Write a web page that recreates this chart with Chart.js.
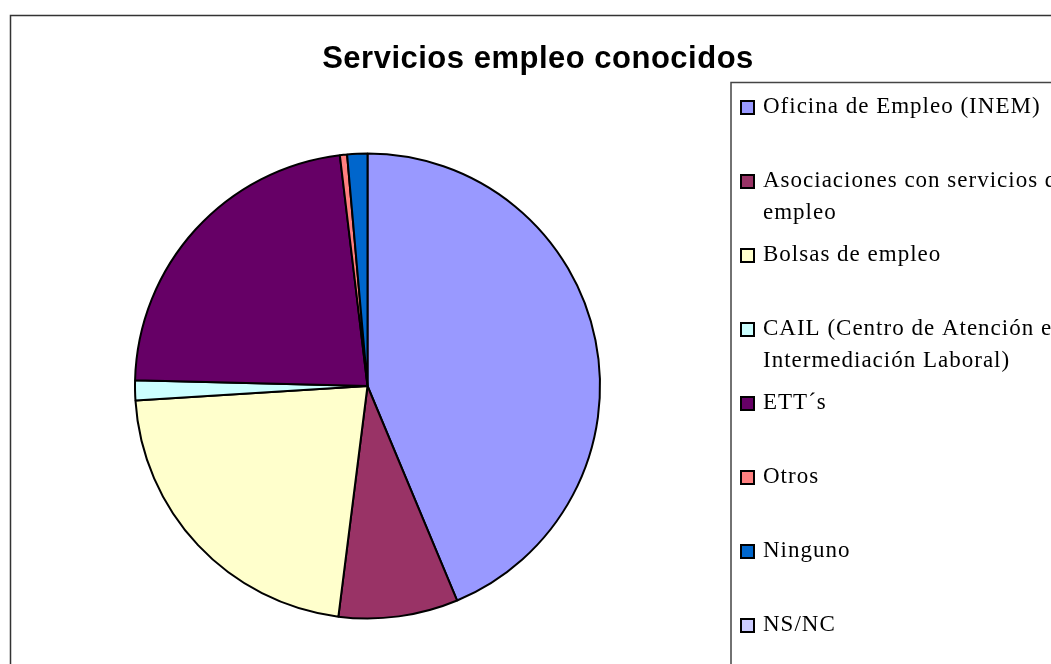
<!DOCTYPE html>
<html>
<head>
<meta charset="utf-8">
<script src="https://cdn.jsdelivr.net/npm/chart.js@4.4.1/dist/chart.umd.min.js"></script>
<style>
    html, body { margin: 0; padding: 0; background: #fff; }
    #wrap { width: 1051px; height: 664px; position: relative; }
</style>
</head>
<body>
<div id="wrap"><canvas id="pieChart" width="1051" height="664"></canvas></div>
<script>
const chartTitle = 'Servicios empleo conocidos';

const categories = [
    'Oficina de Empleo (INEM)',
    'Asociaciones con servicios de empleo',
    'Bolsas de empleo',
    'CAIL (Centro de Atención e Intermediación Laboral)',
    'ETT´s',
    'Otros',
    'Ninguno',
    'NS/NC'
];

// legend text split the way it wraps in the legend box
const legendLines = [
    ['Oficina de Empleo (INEM)'],
    ['Asociaciones con servicios de', 'empleo'],
    ['Bolsas de empleo'],
    ['CAIL (Centro de Atención e', 'Intermediación Laboral)'],
    ['ETT´s'],
    ['Otros'],
    ['Ninguno'],
    ['NS/NC']
];

const percentages = [43.7, 8.3, 22.0, 1.4, 22.7, 0.5, 1.4, 0];

const sliceColors = ['#9999FF', '#993366', '#FFFFCC', '#CCFFFF', '#660066', '#FF8080', '#0066CC', '#CCCCFF'];

// frame, title and the boxed legend on the right
const decorations = {
    id: 'decorations',
    beforeDraw(chart) {
        const ctx = chart.ctx;
        ctx.save();
        ctx.fillStyle = '#fff';
        ctx.fillRect(0, 0, chart.width, chart.height);
        ctx.strokeStyle = '#333';
        ctx.lineWidth = 1.5;
        ctx.beginPath();
        ctx.moveTo(10.5, chart.height + 2);
        ctx.lineTo(10.5, 15.5);
        ctx.lineTo(chart.width + 2, 15.5);
        ctx.stroke();
        ctx.restore();
    },
    afterDraw(chart) {
        const ctx = chart.ctx;
        ctx.save();

        ctx.fillStyle = '#000';
        ctx.font = 'bold 31px "Liberation Sans", Arial, sans-serif';
        ctx.letterSpacing = '0.5px';
        ctx.textAlign = 'center';
        ctx.textBaseline = 'middle';
        ctx.fillText(chartTitle, 538, 59);

        // legend box
        ctx.strokeStyle = '#444';
        ctx.lineWidth = 1.5;
        ctx.beginPath();
        ctx.moveTo(731, chart.height + 2);
        ctx.lineTo(731, 82.5);
        ctx.lineTo(chart.width + 2, 82.5);
        ctx.stroke();

        const colors = chart.data.datasets[0].backgroundColor;
        ctx.font = '23px "Liberation Serif", "Times New Roman", serif';
        ctx.letterSpacing = '1px';
        ctx.textAlign = 'left';
        ctx.textBaseline = 'middle';
        legendLines.forEach((lines, i) => {
            const y = 107 + i * 74;
            ctx.fillStyle = colors[i];
            ctx.fillRect(741, y - 6, 13, 13);
            ctx.strokeStyle = '#000';
            ctx.lineWidth = 2;
            ctx.strokeRect(741, y - 6, 13, 13);
            ctx.fillStyle = '#000';
            lines.forEach((line, j) => {
                ctx.fillText(line, 763, y + j * 32);
            });
        });
        ctx.restore();
    }
};

new Chart(document.getElementById('pieChart'), {
    type: 'pie',
    data: {
        labels: categories,
        datasets: [{
            data: percentages,
            backgroundColor: sliceColors,
            borderColor: '#000',
            borderWidth: 2
        }]
    },
    options: {
        responsive: false,
        animation: false,
        events: [],
        layout: {
            padding: { left: 134, right: 450, top: 152, bottom: 44 }
        },
        plugins: {
            legend: { display: false },
            title: { display: false },
            tooltip: { enabled: false }
        }
    },
    plugins: [decorations]
});
</script>
</body>
</html>
